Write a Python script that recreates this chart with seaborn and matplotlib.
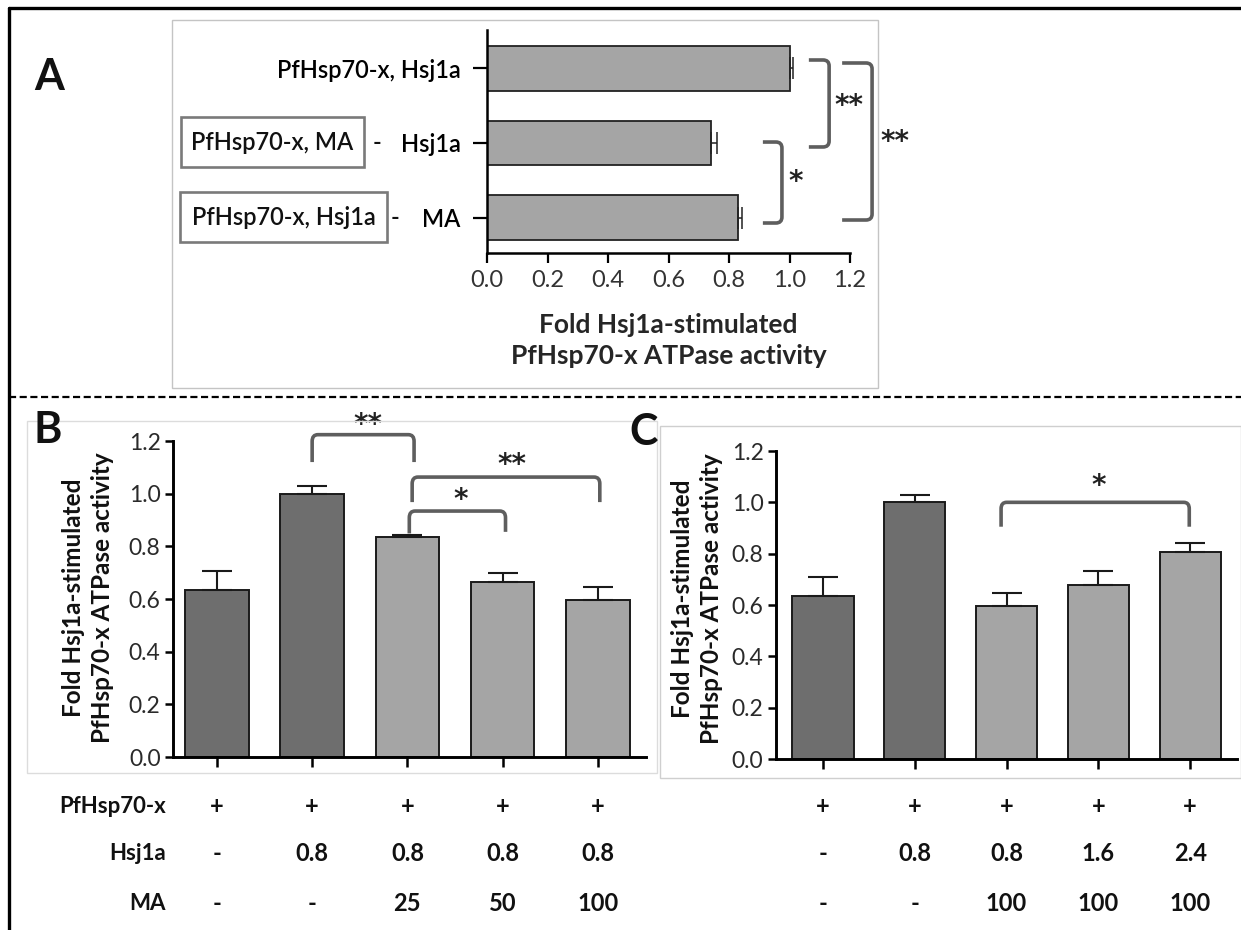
import numpy as np
import pandas as pd
import seaborn as sns
import matplotlib.pyplot as plt
from matplotlib import font_manager
from matplotlib.path import Path
from matplotlib.patches import PathPatch, Rectangle
from matplotlib.lines import Line2D
import matplotlib.transforms as mtransforms

# ---------------------------------------------------------------- data
a_conditions = ["PfHsp70-x, Hsj1a", "PfHsp70-x, MA - Hsj1a", "PfHsp70-x, Hsj1a - MA"]
a_fold = [1.00, 0.74, 0.83]
a_err = [0.012, 0.020, 0.013]

row_labels = ["PfHsp70-x", "Hsj1a", "MA"]

b_pfhsp = ["+", "+", "+", "+", "+"]
b_hsj1a = ["-", "0.8", "0.8", "0.8", "0.8"]
b_ma = ["-", "-", "25", "50", "100"]
b_fold = [0.635, 1.00, 0.835, 0.663, 0.595]
b_err = [0.073, 0.030, 0.008, 0.035, 0.050]

c_pfhsp = ["+", "+", "+", "+", "+"]
c_hsj1a = ["-", "0.8", "0.8", "1.6", "2.4"]
c_ma = ["-", "-", "100", "100", "100"]
c_fold = [0.635, 1.00, 0.597, 0.678, 0.806]
c_err = [0.073, 0.030, 0.050, 0.055, 0.036]

ticks = [0.0, 0.2, 0.4, 0.6, 0.8, 1.0, 1.2]

# ---------------------------------------------------------------- style
sns.set_theme(style="white")
installed = {f.name for f in font_manager.fontManager.ttflist}
main_font = next((f for f in ["Lato", "Open Sans", "Noto Sans"] if f in installed), "DejaVu Sans")
plt.rcParams["font.family"] = [main_font, "DejaVu Sans"]
plt.rcParams["text.color"] = "#111111"

W, H = 1241, 930
fig = plt.figure(figsize=(W / 100, H / 100), dpi=100)
fig.patch.set_facecolor("white")


def fx(px):
    return px / W


def fy(py):
    return 1 - py / H


def axes_px(left, right, top, bottom):
    return fig.add_axes([fx(left), fy(bottom), (right - left) / W, (bottom - top) / H])


DARK = "#6e6e6e"
LIGHT = "#a5a5a5"
BRACKET = "#5e5e5e"
STAR_FONT = ["DejaVu Sans"]
STAR_SIZE = 20
TABLE_SIZE = 16


def bracket(ax, pts, rx, ry):
    """Polyline of four points with rounded inner corners."""
    (x0, y0), (x1, y1), (x2, y2), (x3, y3) = pts

    def toward(p, q, dx, dy):
        vx = np.sign(q[0] - p[0]) * dx
        vy = np.sign(q[1] - p[1]) * dy
        return (p[0] + vx, p[1] + vy)

    a1 = toward((x1, y1), (x0, y0), rx, ry)
    b1 = toward((x1, y1), (x2, y2), rx, ry)
    a2 = toward((x2, y2), (x1, y1), rx, ry)
    b2 = toward((x2, y2), (x3, y3), rx, ry)
    verts = [(x0, y0), a1, (x1, y1), b1, a2, (x2, y2), b2, (x3, y3)]
    codes = [Path.MOVETO, Path.LINETO, Path.CURVE3, Path.CURVE3,
             Path.LINETO, Path.CURVE3, Path.CURVE3, Path.LINETO]
    patch = PathPatch(Path(verts, codes), fill=False, edgecolor=BRACKET,
                      linewidth=2.6, capstyle="butt", joinstyle="round",
                      clip_on=False, zorder=5)
    ax.add_patch(patch)


def star(ax, x, y, s):
    ax.text(x, y, s, ha="center", va="center", fontsize=STAR_SIZE,
            family=STAR_FONT, fontweight="bold", color="#222222", clip_on=False)


# ---------------------------------------------------------------- frame lines
fig.add_artist(Line2D([fx(9), 1], [fy(8), fy(8)], color="black", lw=2.4))
fig.add_artist(Line2D([fx(9), fx(9)], [fy(8), 0], color="black", lw=2.4))
fig.add_artist(Line2D([fx(9), 1], [fy(397), fy(397)], color="black", lw=1.6,
                      linestyle=(0, (3.2, 1.6))))

fig.add_artist(Rectangle((fx(172), fy(388)), (878 - 172) / W, (388 - 20) / H,
                         transform=fig.transFigure, fill=False, ec="#c4c4c4", lw=1))
fig.add_artist(Rectangle((fx(27), fy(773)), (657 - 27) / W, (773 - 421) / H,
                         transform=fig.transFigure, fill=False, ec="#dcdcdc", lw=1))
fig.add_artist(Rectangle((fx(660), fy(778)), (1241 - 660) / W, (778 - 426) / H,
                         transform=fig.transFigure, fill=False, ec="#cfcfcf", lw=1))

# ---------------------------------------------------------------- panel A
axA = axes_px(487, 850, 30, 253)
dfA = pd.DataFrame({"condition": a_conditions, "fold": a_fold})
sns.barplot(data=dfA, x="fold", y="condition", orient="h", color=LIGHT,
            saturation=1, width=0.6, edgecolor="#222222", linewidth=1.3,
            errorbar=None, ax=axA)
axA.errorbar(a_fold, np.arange(len(a_fold)), xerr=[np.zeros(len(a_err)), a_err],
             fmt="none", ecolor="#222222", elinewidth=1.1, capsize=8, capthick=1.1,
             zorder=4)
axA.set_xlim(0, 1.2)
axA.set_ylim(2.467, -0.507)
axA.set_xticks(ticks)
axA.set_xticklabels([f"{t:.1f}" for t in ticks])
tick_text = [c.split(" - ")[-1] for c in a_conditions]
axA.set_yticks(np.arange(len(a_conditions)))
axA.set_yticklabels(tick_text, fontsize=17, fontweight="semibold")
axA.set_ylabel("")
axA.set_xlabel("Fold Hsj1a-stimulated\nPfHsp70-x ATPase activity",
               fontsize=19, fontweight="bold", linespacing=1.35)
axA.xaxis.set_label_coords(0.5, -0.27)
axA.xaxis.label.set_va("top")
for s in ["top", "right"]:
    axA.spines[s].set_visible(False)
for s in ["left", "bottom"]:
    axA.spines[s].set_linewidth(1.8)
    axA.spines[s].set_color("black")
axA.tick_params(axis="y", left=True, length=10, width=1.6, pad=9, colors="black")
axA.tick_params(axis="x", bottom=True, length=7, width=1.6, pad=5,
                labelsize=17, colors="black", labelcolor="#333333")

# boxed prefixes of the MA rows
boxes = {1: (181, 364, 117, 167), 2: (180, 387, 192, 242)}
dash_x = {1: 377, 2: 395}
for i, cond in enumerate(a_conditions):
    if " - " not in cond:
        continue
    prefix = cond.split(" - ")[0]
    l, r, t, b = boxes[i]
    fig.add_artist(Rectangle((fx(l), fy(b)), (r - l) / W, (b - t) / H,
                             transform=fig.transFigure, fill=False,
                             ec="#7a7a7a", lw=1.9))
    fig.text(fx((l + r) / 2), fy((t + b) / 2), prefix, ha="center", va="center",
             fontsize=17, fontweight="semibold")
    fig.text(fx(dash_x[i]), fy((t + b) / 2), "-", ha="center", va="center",
             fontsize=17, fontweight="semibold")

# significance brackets, drawn in value/category units
bracket(axA, [(1.064, -0.107), (1.131, -0.107), (1.131, 1.053), (1.064, 1.053)], 0.02, 0.08)
bracket(axA, [(0.912, 0.987), (0.975, 0.987), (0.975, 2.067), (0.912, 2.067)], 0.02, 0.08)
bracket(axA, [(1.174, -0.067), (1.273, -0.067), (1.273, 2.027), (1.174, 2.027)], 0.02, 0.08)
star(axA, 1.197, 0.50, "**")
star(axA, 1.020, 1.52, "*")
star(axA, 1.349, 0.99, "**")

fig.text(fx(49), fy(77), "A", ha="center", va="center", fontsize=31, fontweight="bold")

# ---------------------------------------------------------------- panels B and C
def bar_panel(ax, hsj1a, ma, fold, err, xlim):
    names = [f"{h}|{m}" for h, m in zip(hsj1a, ma)]
    colors = [DARK if m == "-" else LIGHT for m in ma]
    df = pd.DataFrame({"condition": names, "fold": fold})
    sns.barplot(data=df, x="condition", y="fold", hue="condition",
                palette=colors, saturation=1, legend=False, width=0.665,
                edgecolor="#1a1a1a", linewidth=1.4, errorbar=None, ax=ax)
    ax.errorbar(np.arange(len(fold)), fold, yerr=[np.zeros(len(err)), err],
                fmt="none", ecolor="#1a1a1a", elinewidth=1.5, capsize=10.8,
                capthick=1.5, zorder=4)
    ax.set_xlim(*xlim)
    ax.set_ylim(0, 1.2)
    ax.set_yticks(ticks)
    ax.set_yticklabels([f"{t:.1f}" for t in ticks])
    ax.set_xticks(np.arange(len(fold)))
    ax.set_xticklabels([])
    ax.set_xlabel("")
    ax.set_ylabel("")
    for s in ["top", "right"]:
        ax.spines[s].set_visible(False)
    for s in ["left", "bottom"]:
        ax.spines[s].set_linewidth(2.1)
        ax.spines[s].set_color("black")
    ax.tick_params(axis="y", left=True, length=6, width=1.8, pad=3,
                   labelsize=16.5, colors="black", labelcolor="#2a2a2a")
    ax.tick_params(axis="x", bottom=True, length=7, width=1.8, colors="black")
    ax.patch.set_alpha(0)


axB = axes_px(173, 646, 441, 757)
bar_panel(axB, b_hsj1a, b_ma, b_fold, b_err, (-0.461, 4.505))
axC = axes_px(776, 1237, 451, 759)
bar_panel(axC, c_hsj1a, c_ma, c_fold, c_err, (-0.512, 4.51))

ylab = "Fold Hsj1a-stimulated\nPfHsp70-x ATPase activity"
fig.text(fx(88), fy(598), ylab, rotation=90, ha="center", va="center",
         fontsize=17.5, fontweight="bold", linespacing=1.3)
fig.text(fx(697), fy(599), ylab, rotation=90, ha="center", va="center",
         fontsize=17.5, fontweight="bold", linespacing=1.3)

fig.text(fx(48), fy(430), "B", ha="center", va="center", fontsize=31, fontweight="bold")
fig.text(fx(644), fy(432), "C", ha="center", va="center", fontsize=31, fontweight="bold")

# B brackets
bracket(axB, [(1.0, 1.12), (1.0, 1.224), (2.07, 1.224), (2.07, 1.12)], 0.06, 0.025)
star(axB, 1.585, 1.262, "**")
bracket(axB, [(2.05, 0.968), (2.05, 1.063), (4.02, 1.063), (4.02, 0.968)], 0.06, 0.025)
star(axB, 3.10, 1.110, "**")
bracket(axB, [(2.02, 0.849), (2.02, 0.934), (3.03, 0.934), (3.03, 0.855)], 0.06, 0.025)
star(axB, 2.56, 0.975, "*")

# C bracket
bracket(axC, [(1.94, 0.905), (1.94, 1.0), (3.99, 1.0), (3.99, 0.905)], 0.06, 0.025)
star(axC, 3.0, 1.065, "*")

# ---------------------------------------------------------------- condition table
row_y = [806, 853, 903]
for label, y in zip(row_labels, row_y):
    fig.text(fx(166), fy(y), label, ha="right", va="center",
             fontsize=TABLE_SIZE, fontweight="bold")

for ax, rows in [(axB, [b_pfhsp, b_hsj1a, b_ma]), (axC, [c_pfhsp, c_hsj1a, c_ma])]:
    trans = mtransforms.blended_transform_factory(ax.transData, fig.transFigure)
    for vals, y in zip(rows, row_y):
        for i, v in enumerate(vals):
            ax.text(i, fy(y), v, transform=trans, ha="center", va="center",
                    fontsize=TABLE_SIZE + 1, fontweight="bold", clip_on=False)

fig.savefig("out.png", dpi=100, facecolor="white")
